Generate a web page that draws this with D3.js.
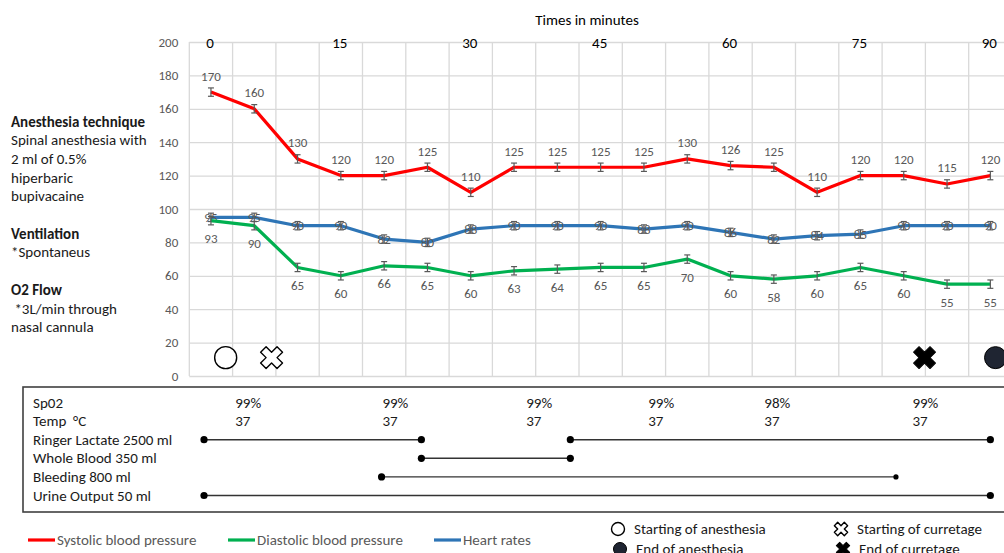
<!DOCTYPE html>
<html>
<head>
<meta charset="utf-8">
<script src="https://cdn.jsdelivr.net/npm/d3@7"></script>
<style>
body { margin:0; background:#fff; overflow:hidden; }
text { font-family: Calibri, Carlito, Lato, "Open Sans", sans-serif; white-space: pre; }
</style>
</head>
<body>
<div id="chart1"></div>
<script>
// data (each step = 5 minutes)
var steps = d3.range(19)
var systolic = [170,160,130,120,120,125,110,125,125,125,125,130,126,125,110,120,120,115,120]
var diastolic = [93,90,65,60,66,65,60,63,64,65,65,70,60,58,60,65,60,55,55]
var heartRate = [95,95,90,90,82,80,88,90,90,90,88,90,86,82,84,85,90,90,90]
var errorSize = 2.5
var timeTicks = [0,15,30,45,60,75,90]
var yTicks = [0,20,40,60,80,100,120,140,160,180,200]

// events (minute, value)
var eventNames = ["start_anesthesia","start_curretage","end_curretage","end_anesthesia"]
var eventMinutes = [1.7, 7, 82.4, 90.6]
var eventValues = [11, 11, 11, 11]

// table under the chart
var tableRows = ["Sp02","Temp  °C","Ringer Lactate 2500 ml","Whole Blood 350 ml","Bleeding 800 ml","Urine Output 50 ml"]
var spo2Values = ["99%","99%","99%","99%","98%","99%"]
var tempValues = ["37","37","37","37","37","37"]
var readingMinutes = [2.8, 19.8, 36.4, 50.5, 63.9, 81]
var ringerSpans = [[-0.8, 24.3],[41.5, 90]]
var bloodSpans = [[24.3, 41.5]]
var bleedingSpans = [[19.7, 79.1]]
var urineSpans = [[-0.8, 90]]

var leftNotes = [
  ["Anesthesia technique", true], ["Spinal anesthesia with", false], ["2 ml of 0.5%", false],
  ["hiperbaric", false], ["bupivacaine", false], ["", false],
  ["Ventilation", true], ["*Spontaneus", false], ["", false],
  ["O2 Flow", true], [" *3L/min through", false], ["nasal cannula", false]
]

var width = 1004
var height = 553

var svg = d3.select("#chart1").append("svg").attr("width", width).attr("height", height)

var plotLeft = 189.3
var bandW = 43.3
var plotTop = 42
var plotBottom = 376

var xBand = d3.scaleBand().domain(steps).range([plotLeft, plotLeft + bandW*19]).padding(0)
var xMid = function(i){ return xBand(i) + xBand.bandwidth()/2 }
var xMin = d3.scaleLinear().domain([0,90]).range([xMid(0), xMid(18)])
var yScale = d3.scaleLinear().domain([0,200]).range([plotBottom, plotTop])

// gridlines + y axis
var yAxis = svg.append("g")
  .attr("transform", "translate(" + plotLeft + ",0)")
  .call(d3.axisLeft(yScale).tickValues(yTicks).tickSize(-(bandW*19)).tickPadding(11))
yAxis.select(".domain").remove()
yAxis.selectAll("line").attr("stroke", "#d9d9d9").attr("stroke-width", 1.3)
yAxis.selectAll("text").attr("fill", "#595959").attr("font-size", "13px")
  .style("font-family", "Calibri, Carlito, Lato, sans-serif")

var vLines = steps.map(function(i){ return xBand(i) }).concat([xBand.range()[1]])
svg.selectAll(".vgrid").data(vLines).enter().append("line")
  .attr("x1", function(d){ return d }).attr("x2", function(d){ return d })
  .attr("y1", plotTop).attr("y2", plotBottom)
  .attr("stroke", "#d9d9d9").attr("stroke-width", 1.3)

// top time labels
svg.append("text").attr("x", 587).attr("y", 25).attr("text-anchor", "middle")
  .attr("font-size", "15px").attr("fill", "#000").text("Times in minutes")
svg.selectAll(".timeLbl").data(timeTicks).enter().append("text")
  .attr("x", function(d){ return xMin(d) - 1 })
  .attr("y", plotTop + 5.5)
  .attr("text-anchor", "middle")
  .attr("font-size", "15px").attr("fill", "#000")
  .text(function(d){ return d })

// draw each series
function drawSeries(values, color, labelDy){
  var line = d3.line().x(function(d,i){ return xMid(i) }).y(function(d){ return yScale(d) })
  svg.append("path").datum(values)
    .attr("d", line).attr("fill", "none")
    .attr("stroke", color).attr("stroke-width", 3.2).attr("stroke-linejoin", "round")

  var eb = svg.append("g")
  values.forEach(function(v,i){
    var x = xMid(i)
    var y1 = yScale(v + errorSize), y2 = yScale(v - errorSize)
    eb.append("line").attr("x1", x).attr("x2", x).attr("y1", y1).attr("y2", y2)
      .attr("stroke", "#595959").attr("stroke-width", 1.2)
    eb.append("line").attr("x1", x-3).attr("x2", x+3).attr("y1", y1).attr("y2", y1)
      .attr("stroke", "#595959").attr("stroke-width", 1.2)
    eb.append("line").attr("x1", x-3).attr("x2", x+3).attr("y1", y2).attr("y2", y2)
      .attr("stroke", "#595959").attr("stroke-width", 1.2)
  })

  svg.selectAll(null).data(values).enter().append("text")
    .attr("x", function(d,i){ return xMid(i) })
    .attr("y", function(d){ return yScale(d) + labelDy })
    .attr("text-anchor", "middle")
    .attr("font-size", "13px").attr("fill", "#595959")
    .text(function(d){ return d })
}

drawSeries(heartRate, "#2e75b6", 4.5)
drawSeries(diastolic, "#00b050", 22.5)
drawSeries(systolic, "#ff0000", -11.5)

// event symbols
var crossSym = d3.symbol().type(d3.symbolCross)
function drawEvent(g, name, x, y, big){
  var r = big ? 11 : 6.5
  var s = big ? 300 : 110
  if (name == "start_anesthesia") {
    g.append("circle").attr("cx", x).attr("cy", y).attr("r", r)
      .attr("fill", "#fff").attr("stroke", "#000").attr("stroke-width", 1.4)
  } else if (name == "end_anesthesia") {
    g.append("circle").attr("cx", x).attr("cy", y).attr("r", r)
      .attr("fill", "#1f2532").attr("stroke", "#000").attr("stroke-width", 1)
  } else if (name == "start_curretage") {
    g.append("path").attr("d", crossSym.size(s)())
      .attr("transform", "translate(" + x + "," + y + ") rotate(45)")
      .attr("fill", "#fff").attr("stroke", "#000").attr("stroke-width", 1.4).attr("stroke-linejoin", "round")
  } else {
    g.append("path").attr("d", crossSym.size(s)())
      .attr("transform", "translate(" + x + "," + y + ") rotate(45)")
      .attr("fill", "#000").attr("stroke", "#000").attr("stroke-width", 1).attr("stroke-linejoin", "round")
  }
}
var evG = svg.append("g")
eventNames.forEach(function(n,i){
  drawEvent(evG, n, xMin(eventMinutes[i]), yScale(eventValues[i]), true)
})

// left notes
svg.selectAll(".note").data(leftNotes).enter().append("text")
  .attr("x", 11)
  .attr("y", function(d,i){ return 126.5 + i*18.7 })
  .attr("font-size", "15px")
  .attr("font-weight", function(d){ return d[1] ? "bold" : "normal" })
  .attr("fill", "#1a1a1a")
  .text(function(d){ return d[0] })

// table
svg.append("rect").attr("x", 23).attr("y", 387).attr("width", 1000).attr("height", 125)
  .attr("fill", "none").attr("stroke", "#404040").attr("stroke-width", 1.6)

var rowY = function(i){ return 402.5 + i*18.6 }
svg.selectAll(".rowLbl").data(tableRows).enter().append("text")
  .attr("x", 33).attr("y", function(d,i){ return rowY(i) + 5 })
  .attr("font-size", "15px").attr("fill", "#1a1a1a")
  .text(function(d){ return d })

svg.selectAll(".spo2").data(spo2Values).enter().append("text")
  .attr("x", function(d,i){ return xMin(readingMinutes[i]) }).attr("y", rowY(0) + 5)
  .attr("font-size", "15px").attr("fill", "#1a1a1a").text(function(d){ return d })
svg.selectAll(".temp").data(tempValues).enter().append("text")
  .attr("x", function(d,i){ return xMin(readingMinutes[i]) }).attr("y", rowY(1) + 5)
  .attr("font-size", "15px").attr("fill", "#1a1a1a").text(function(d){ return d })

function drawSpans(spans, row, smallEnd){
  spans.forEach(function(s){
    var y = rowY(row)
    svg.append("line").attr("x1", xMin(s[0])).attr("x2", xMin(s[1]))
      .attr("y1", y).attr("y2", y).attr("stroke", "#333").attr("stroke-width", 1.4)
    svg.append("circle").attr("cx", xMin(s[0])).attr("cy", y).attr("r", 3.6).attr("fill", "#000")
    svg.append("circle").attr("cx", xMin(s[1])).attr("cy", y).attr("r", smallEnd ? 2.6 : 3.6).attr("fill", "#000")
  })
}
drawSpans(ringerSpans, 2)
drawSpans(bloodSpans, 3)
drawSpans(bleedingSpans, 4, true)
drawSpans(urineSpans, 5)

// legend
var legendNames = ["Systolic blood pressure","Diastolic blood pressure","Heart rates"]
var legendColors = ["#ff0000","#00b050","#2e75b6"]
var legendX = [28, 228, 434]
legendNames.forEach(function(n,i){
  svg.append("line").attr("x1", legendX[i]).attr("x2", legendX[i] + 27)
    .attr("y1", 540).attr("y2", 540).attr("stroke", legendColors[i]).attr("stroke-width", 3.2)
  svg.append("text").attr("x", legendX[i] + 29).attr("y", 545)
    .attr("font-size", "15px").attr("fill", "#595959").text(n)
})

var eventLabels = ["Starting of anesthesia","Starting of curretage","End of curretage","End of anesthesia"]
var eventLegX = [618, 841, 843, 620]
var eventLegY = [529, 529, 549, 549]
eventNames.forEach(function(n,i){
  drawEvent(svg, n, eventLegX[i], eventLegY[i], false)
  svg.append("text").attr("x", eventLegX[i] + 16).attr("y", eventLegY[i] + 5)
    .attr("font-size", "15px").attr("fill", "#1a1a1a").text(eventLabels[i])
})
</script>
</body>
</html>
